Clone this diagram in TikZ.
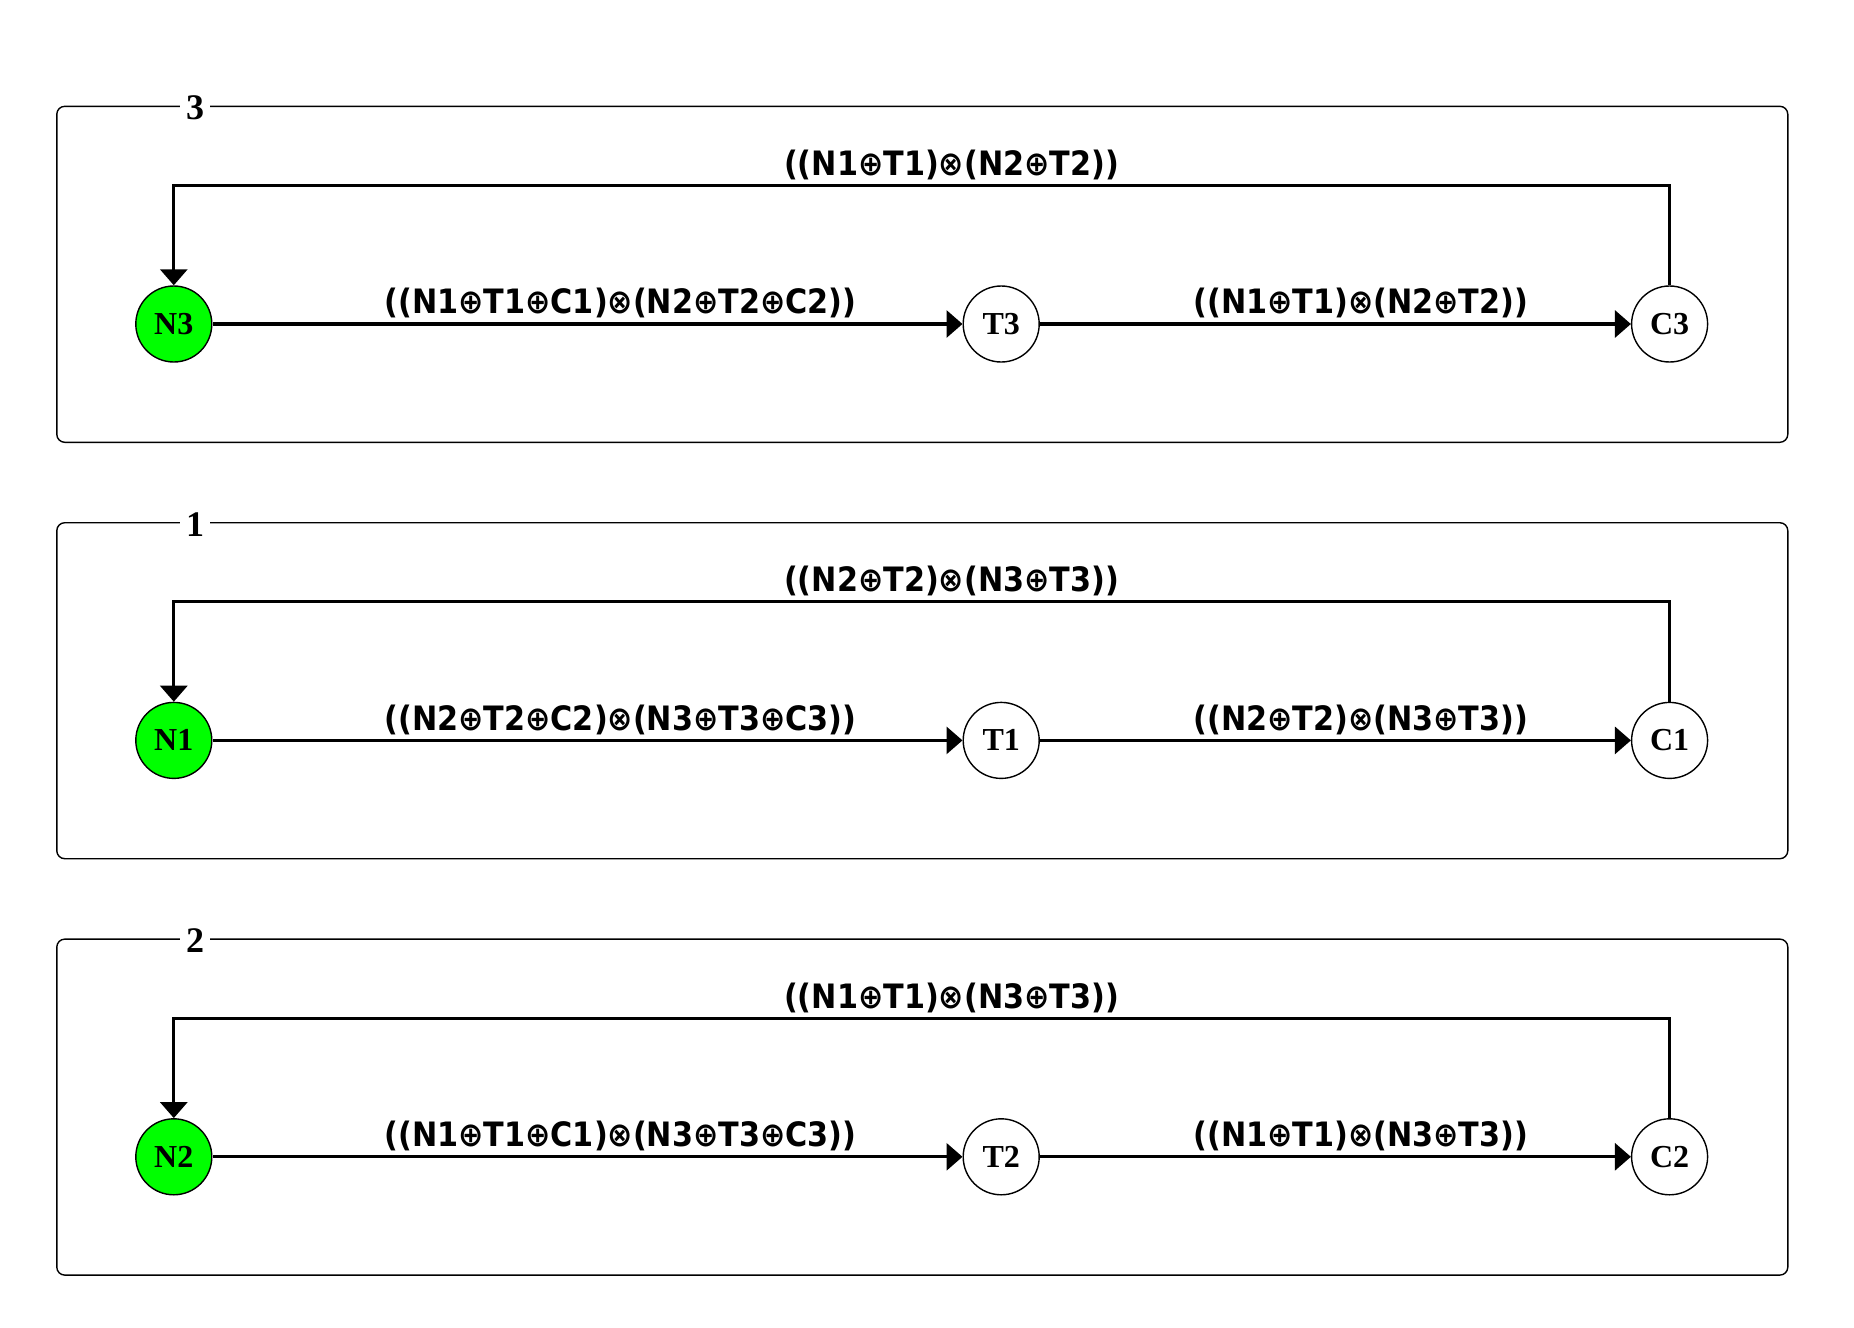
\documentclass[tikz,border=0pt]{standalone}
\usepackage{fontspec}
\setmainfont{Liberation Serif}
\newfontfamily\lblfont{DejaVu Sans Condensed}
\usetikzlibrary{arrows.meta,positioning}
\definecolor{nodegreen}{HTML}{00FF00}

\begin{document}
\begin{tikzpicture}[
   x=0.5pt,y=0.5pt,
   state/.style ={circle,draw=black,line width=0.7pt,minimum size=38pt,inner sep=0pt,font=\bfseries\fontsize{16}{16}\selectfont},
   start/.style ={state,fill=nodegreen},
   panel/.style ={draw=black,line width=0.7pt,rounded corners=4pt,minimum width=865.5pt,minimum height=168pt,inner sep=0pt},
   tag/.style   ={fill=white,inner sep=3pt,font=\bfseries\fontsize{18}{18}\selectfont},
   fl/.style    ={-{Triangle[length=8pt,width=13.5pt]},line width=1.6pt},
   elbl/.style  ={above,inner sep=2pt,font=\lblfont\bfseries\fontsize{16.8}{16.8}\selectfont}
  ]
  \useasboundingbox (0,0) rectangle (1854,-1328);

  % panel 3
  \node[panel] (box3) at (922.3,-274.3) {};
  \node[tag] (tag3) at (195,-108) {3};
  \node[start] (N3) at (173.8,-324) {N3};
  \node[state,right=375pt of N3] (T3) {T3};
  \node[state,right=295.5pt of T3] (C3) {C3};

  % panel 1
  \node[panel] (box1) at (922.3,-690.7) {};
  \node[tag] (tag1) at (195,-524.4) {1};
  \node[start] (N1) at (173.8,-740.4) {N1};
  \node[state,right=375pt of N1] (T1) {T1};
  \node[state,right=295.5pt of T1] (C1) {C1};

  % panel 2
  \node[panel] (box2) at (922.3,-1107.1) {};
  \node[tag] (tag2) at (195,-940.8) {2};
  \node[start] (N2) at (173.8,-1156.8) {N2};
  \node[state,right=375pt of N2] (T2) {T2};
  \node[state,right=295.5pt of T2] (C2) {C2};

  \draw[fl] (N3) -- node[elbl,pos=0.544] {((N1⊕T1⊕C1)⊗(N2⊕T2⊕C2))} (T3);
  \draw[fl] (T3) -- node[elbl,pos=0.543] {((N1⊕T1)⊗(N2⊕T2))} (C3);
  \draw[fl] (C3.north) -- ++(0,100) -| node[elbl,pos=0.24] {((N1⊕T1)⊗(N2⊕T2))} (N3.north);

  \draw[fl] (N1) -- node[elbl,pos=0.544] {((N2⊕T2⊕C2)⊗(N3⊕T3⊕C3))} (T1);
  \draw[fl] (T1) -- node[elbl,pos=0.543] {((N2⊕T2)⊗(N3⊕T3))} (C1);
  \draw[fl] (C1.north) -- ++(0,100) -| node[elbl,pos=0.24] {((N2⊕T2)⊗(N3⊕T3))} (N1.north);

  \draw[fl] (N2) -- node[elbl,pos=0.544] {((N1⊕T1⊕C1)⊗(N3⊕T3⊕C3))} (T2);
  \draw[fl] (T2) -- node[elbl,pos=0.543] {((N1⊕T1)⊗(N3⊕T3))} (C2);
  \draw[fl] (C2.north) -- ++(0,100) -| node[elbl,pos=0.24] {((N1⊕T1)⊗(N3⊕T3))} (N2.north);
\end{tikzpicture}
\end{document}
